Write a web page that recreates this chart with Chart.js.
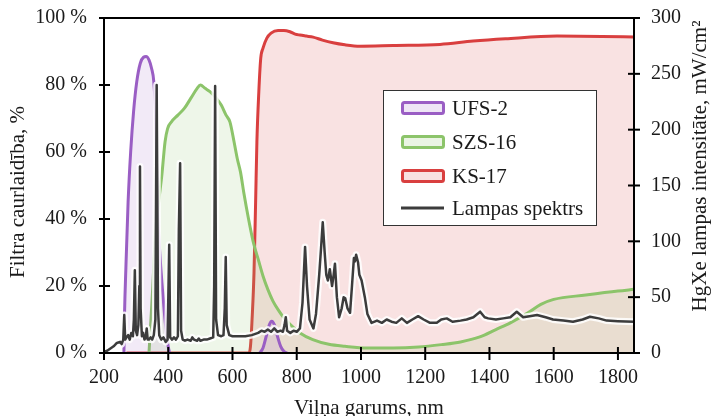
<!DOCTYPE html>
<html>
<head>
<meta charset="utf-8">
<script src="https://cdn.jsdelivr.net/npm/chart.js@4.4.0/dist/chart.umd.min.js"></script>
<style>
html, body { margin: 0; padding: 0; background: #fff; }
#wrap { position: relative; width: 712px; height: 416px; }
</style>
</head>
<body>
<div id="wrap"><canvas id="chart" width="712" height="416"></canvas></div>
<script>
// filtru caurlaidiba, %
const ufsWl  = [262, 264, 268, 275, 283, 292, 302, 313, 323, 331, 340, 348, 355, 360, 364, 368, 375, 382, 388, 393, 398, 404, 500, 685, 695, 705, 715, 722, 730, 740, 750, 760, 770];
const ufsVal = [0, 12, 25, 45, 60, 72, 81, 86.5, 88.3, 88.5, 87.5, 85, 81, 72, 55, 40, 28, 19, 12, 7, 3, 0, null, 0, 1.5, 5, 8.5, 9.5, 8.5, 5, 2, 0.5, 0];

const szsWl  = [340, 345, 352, 360, 370, 380, 390, 398, 410, 430, 450, 470, 490, 500, 515, 530, 550, 565, 580, 592, 605, 615, 625, 635, 650, 665, 680, 695, 710, 726, 745, 760, 780, 810, 850, 900, 950, 1020, 1100, 1180, 1250, 1310, 1370, 1420, 1465, 1520, 1560, 1600, 1700, 1800, 1850];
const szsVal = [0, 8, 20, 35, 45, 53, 63, 67, 69, 71, 73, 76, 79, 80, 79, 78, 76, 74, 71, 69, 63, 58, 54, 48, 40, 33, 28, 23, 19, 15.5, 12.5, 10.5, 8.5, 6, 4, 2.6, 2, 1.5, 1.5, 1.8, 2.5, 3.3, 4.8, 7, 9, 12, 14.5, 16, 17.3, 18.5, 19];

const ksWl  = [270, 400, 500, 650, 656, 662, 667, 672, 676, 682, 688, 695, 707, 720, 742, 760, 779, 795, 810, 830, 851, 880, 913, 950, 997, 1100, 1246, 1349, 1450, 1610, 1750, 1850];
const ksVal = [0, 0, 0, 0, 2, 12, 24, 45, 63, 78, 88, 91, 94, 95.5, 96.3, 96.3, 95.9, 95.2, 94.9, 94.6, 94.3, 93.4, 92.6, 92, 91.6, 91.8, 92.1, 93.1, 93.8, 94.6, 94.5, 94.3];

// lampas spektrs, mW/cm2
const lampWl  = [200, 210, 220, 230, 240, 250, 255, 260, 263, 266, 270, 275, 280, 285, 290, 293, 296, 299, 303, 307, 310, 312, 314, 318, 322, 326, 330, 333, 336, 340, 345, 350, 355, 360, 364, 368, 372, 378, 385, 392, 398, 403, 406, 412, 418, 424, 430, 433, 437, 440, 445, 452, 460, 470, 475, 480, 490, 495, 500, 510, 520, 530, 540, 543, 546, 549, 555, 565, 572, 576, 579, 582, 590, 600, 620, 640, 660, 680, 690, 700, 710, 720, 730, 740, 750, 757, 762, 766, 770, 780, 790, 800, 810, 818, 826, 832, 840, 852, 860, 870, 876, 881, 887, 892, 897, 903, 910, 915, 919, 925, 932, 940, 946, 951, 958, 966, 972, 978, 981, 985, 991, 995, 1002, 1012, 1020, 1033, 1050, 1065, 1080, 1095, 1110, 1127, 1143, 1160, 1178, 1195, 1215, 1236, 1250, 1267, 1285, 1310, 1329, 1350, 1371, 1385, 1396, 1420, 1443, 1465, 1485, 1505, 1525, 1548, 1575, 1598, 1630, 1660, 1690, 1713, 1740, 1765, 1800, 1850];
const lampVal = [1, 2, 4, 6, 9, 10, 8, 12, 34, 12, 14, 16, 12, 18, 15, 30, 74, 20, 16, 25, 60, 167, 40, 15, 18, 12, 14, 22, 12, 12, 14, 12, 16, 30, 240, 40, 16, 12, 14, 10, 12, 97, 14, 12, 14, 12, 15, 110, 170, 20, 12, 11, 12, 11, 14, 12, 11, 13, 11, 12, 12, 13, 14, 60, 239, 30, 16, 15, 16, 40, 86, 25, 16, 15, 15, 15, 16, 18, 20, 19, 21, 19, 22, 19, 20, 19, 25, 32, 20, 18, 20, 19, 22, 45, 95, 60, 30, 22, 35, 70, 95, 117, 90, 70, 65, 75, 60, 70, 80, 50, 32, 40, 50, 49, 40, 36, 60, 85, 82, 88, 81, 70, 65, 50, 35, 27, 29, 27, 30, 28, 27, 31, 27, 30, 33, 30, 27, 27, 30, 31, 28, 29, 30, 32, 37, 32, 31, 30, 31, 32, 37, 32, 33, 34, 32, 30, 29, 28, 30, 32.5, 31, 29, 28.5, 28];

const xTicks = [200, 400, 600, 800, 1000, 1200, 1400, 1600, 1800];

const pts = (xs, ys) => xs.map((x, i) => ({ x: x, y: ys[i] }));

const serif = "'Liberation Serif', 'Times New Roman', serif";
Chart.defaults.font.family = serif;
Chart.defaults.font.size = 20;
Chart.defaults.color = '#1a1a1a';

const purple = '#9a5ec4', green = '#8cc46a', red = '#d93f3f', dark = '#3c3c3c';

// ramis, iedalas abpus asij, virsraksti un legenda
const decor = {
  id: 'decor',
  afterDraw(chart) {
    const { ctx, chartArea: a, scales } = chart;
    ctx.save();
    ctx.strokeStyle = '#000';
    ctx.lineWidth = 2;
    ctx.strokeRect(a.left, a.top, a.right - a.left, a.bottom - a.top);
    const seg = (x1, y1, x2, y2) => { ctx.beginPath(); ctx.moveTo(x1, y1); ctx.lineTo(x2, y2); ctx.stroke(); };
    scales.x.ticks.forEach(t => { const p = scales.x.getPixelForValue(t.value); seg(p, a.bottom - 6, p, a.bottom + 7); });
    scales.y.ticks.forEach(t => { const p = scales.y.getPixelForValue(t.value); seg(a.left - 5, p, a.left + 6, p); });
    scales.y2.ticks.forEach(t => { const p = scales.y2.getPixelForValue(t.value); seg(a.right - 6, p, a.right + 6, p); });

    ctx.fillStyle = '#1a1a1a';
    ctx.font = '21px ' + serif;
    ctx.textAlign = 'center';
    ctx.textBaseline = 'middle';
    ctx.save();
    ctx.translate(18, 192);
    ctx.rotate(-Math.PI / 2);
    ctx.fillText('Filtra caurlaidība, %', 0, 0);
    ctx.restore();
    ctx.save();
    ctx.translate(700, 166);
    ctx.rotate(-Math.PI / 2);
    ctx.fillText('HgXe lampas intensitāte, mW/cm²', 0, 0);
    ctx.restore();
    ctx.textBaseline = 'alphabetic';
    ctx.fillText('Viļņa garums, nm', (a.left + a.right) / 2, 414);

    // legenda
    ctx.fillStyle = '#fff';
    ctx.fillRect(383, 90, 214, 136);
    ctx.strokeStyle = '#333';
    ctx.lineWidth = 1;
    ctx.strokeRect(383.5, 90.5, 213, 135);
    const items = chart.data.datasets.filter(d => d.inLegend);
    const rows = [108, 142, 176, 208];
    items.forEach((d, i) => {
      const y = rows[i];
      if (d.swatch) {
        ctx.fillStyle = d.swatch;
        ctx.strokeStyle = d.borderColor;
        ctx.lineWidth = 3;
        ctx.beginPath();
        ctx.roundRect(402.5, y - 5.5, 41, 11, 2);
        ctx.fill();
        ctx.stroke();
      } else {
        ctx.strokeStyle = d.borderColor;
        ctx.lineWidth = 3;
        seg(401, y, 444, y);
      }
      ctx.fillStyle = '#1a1a1a';
      ctx.textAlign = 'left';
      ctx.textBaseline = 'middle';
      ctx.fillText(d.label, 452, y + 1);
    });
    ctx.restore();
  }
};

const filterLine = { pointRadius: 0, borderWidth: 3, fill: 'origin', cubicInterpolationMode: 'monotone', spanGaps: false, yAxisID: 'y' };

new Chart(document.getElementById('chart'), {
  type: 'line',
  data: {
    datasets: [
      { label: 'UFS-2', data: pts(ufsWl, ufsVal), borderColor: purple, backgroundColor: 'rgba(154,94,196,0.13)', swatch: '#eee6f5', inLegend: true, order: 2, ...filterLine },
      { label: 'SZS-16', data: pts(szsWl, szsVal), borderColor: green, backgroundColor: 'rgba(140,196,106,0.15)', swatch: '#eaf4e4', inLegend: true, order: 3, ...filterLine },
      { label: 'KS-17', data: pts(ksWl, ksVal), borderColor: red, backgroundColor: 'rgba(217,63,63,0.15)', swatch: '#f8e0e0', inLegend: true, order: 4, ...filterLine },
      { label: 'Lampas spektrs', data: pts(lampWl, lampVal), borderColor: dark, borderWidth: 2.5, borderJoinStyle: 'round', pointRadius: 0, fill: false, tension: 0, yAxisID: 'y2', inLegend: true, order: 0 },
      { label: 'halo', data: pts(lampWl, lampVal), borderColor: 'rgba(255,255,255,0.85)', borderWidth: 7, borderJoinStyle: 'round', pointRadius: 0, fill: false, tension: 0, yAxisID: 'y2', order: 1 }
    ]
  },
  options: {
    responsive: false,
    animation: false,
    layout: { padding: { top: 18, left: 0, right: 0, bottom: 0 } },
    plugins: { legend: { display: false }, tooltip: { enabled: false } },
    scales: {
      x: {
        type: 'linear', min: 200, max: 1850,
        afterFit: s => { s.height = 63; s.paddingLeft = 0; s.paddingRight = 0; },
        afterBuildTicks: s => { s.ticks = xTicks.map(v => ({ value: v })); },
        ticks: { padding: 13, maxRotation: 0, includeBounds: false, callback: v => String(v) },
        grid: { drawOnChartArea: false, drawTicks: false },
        border: { color: '#000', width: 2 }
      },
      y: {
        position: 'left', min: 0, max: 100,
        afterFit: s => { s.width = 104; s.paddingTop = 0; s.paddingBottom = 0; },
        ticks: { stepSize: 20, padding: 17, callback: v => v + ' %' },
        grid: { drawOnChartArea: false, drawTicks: false },
        border: { color: '#000', width: 2 }
      },
      y2: {
        position: 'right', min: 0, max: 300,
        afterFit: s => { s.width = 78; s.paddingTop = 0; s.paddingBottom = 0; },
        ticks: { stepSize: 50, padding: 17 },
        grid: { drawOnChartArea: false, drawTicks: false },
        border: { color: '#000', width: 2 }
      }
    }
  },
  plugins: [decor]
});
</script>
</body>
</html>
